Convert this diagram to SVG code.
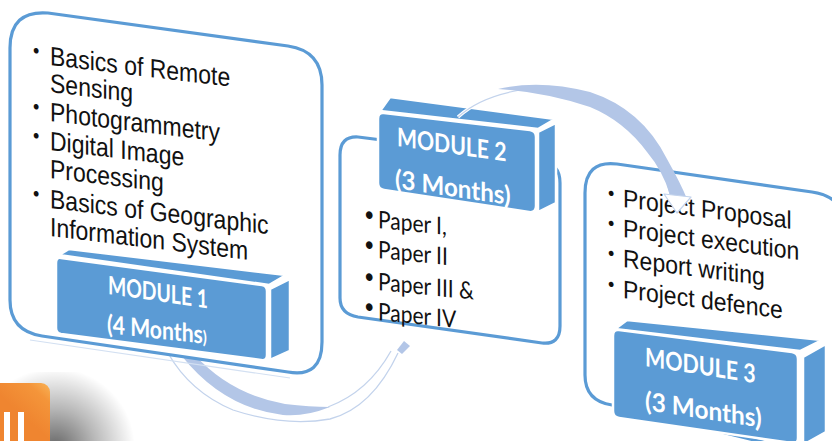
<svg xmlns="http://www.w3.org/2000/svg" width="832" height="441" viewBox="0 0 832 441">
<defs>
<style>
.card{fill:#ffffff;stroke:#5b9bd5;stroke-width:3.2;stroke-linejoin:round}
.face{fill:#5b9bd5;stroke:#ffffff;stroke-width:2.5;stroke-linejoin:round}
.list{font-family:"Liberation Sans",Arial,sans-serif;font-size:23px;fill:#111111}
.list2{font-family:Lato,"Open Sans",sans-serif;font-size:21px;fill:#111111}
.mod{font-family:Lato,"Open Sans",sans-serif;font-size:23px;font-weight:700;fill:#ffffff}
.band{fill:#b3c6e7}
.thin{fill:none;stroke:#c3d3ec;stroke-width:1.3}
.bul{font-size:18px}
</style>
<linearGradient id="og" x1="1" y1="0" x2="0.6" y2="0.5">
<stop offset="0" stop-color="#f9b457"/>
<stop offset="0.35" stop-color="#f4953a"/>
<stop offset="1" stop-color="#ef8530"/>
</linearGradient>
<radialGradient id="sh" cx="55" cy="448" r="80" gradientUnits="userSpaceOnUse">
<stop offset="0" stop-color="#000000" stop-opacity="0.6"/>
<stop offset="0.5" stop-color="#000000" stop-opacity="0.28"/>
<stop offset="1" stop-color="#000000" stop-opacity="0"/>
</radialGradient>
</defs>
<rect width="832" height="441" fill="#ffffff"/>

<g id="connectors-under">
<path class="thin" d="M168,353 Q190,392 233,410 Q285,427 330,419 Q372,408 398,353"/>
<path class="band" d="M181,355 L195,355 Q230,394 285,404 Q310,407 330,407 Q305,417 283,415 Q223,408 181,355 Z"/>
<path class="thin" d="M328,407 Q368,392 391,351"/>
<polygon class="band" points="397,350 404,341 410,346 402,354"/>
</g>

<g id="node-module1">
<path class="card" d="M10,48 Q10,10 48,13 L288,46 Q322,51 322,85 L322,342 Q322,378 288,372 L42,336 Q10,331 10,300 Z"/>
<path d="M30,340 L290,378" fill="none" stroke="#d3e0f2" stroke-width="1.2"/>
<text class="list" transform="matrix(1,0.12,0,1.15,50,65)"><tspan class="bul" x="-17" y="-5">•</tspan><tspan x="0" y="0">Basics of Remote</tspan></text>
<text class="list" transform="matrix(1,0.12,0,1.15,50,92)">Sensing</text>
<text class="list" transform="matrix(1,0.12,0,1.15,50,121)"><tspan class="bul" x="-17" y="-5">•</tspan><tspan x="0" y="0">Photogrammetry</tspan></text>
<text class="list" transform="matrix(1,0.12,0,1.15,50,150)"><tspan class="bul" x="-17" y="-5">•</tspan><tspan x="0" y="0">Digital Image</tspan></text>
<text class="list" transform="matrix(1,0.12,0,1.15,50,178)">Processing</text>
<text class="list" transform="matrix(1,0.12,0,1.15,50,208)"><tspan class="bul" x="-17" y="-5">•</tspan><tspan x="0" y="0">Basics of Geographic</tspan></text>
<text class="list" transform="matrix(1,0.12,0,1.15,50,236)">Information System</text>
<polygon class="face" points="59,255 69,249 286,275 269,285"/>
<polygon class="face" points="270,289 290,279 290,351 270,360"/>
<path class="face" d="M61,258 L262,285 Q267,286 267,291 L267,355 Q267,361 261,360 L61,334 Q56,333 56,328 L56,263 Q56,257 61,258 Z"/>
<text class="mod" transform="matrix(0.84,0.12,0,1.1,108,294)">MODULE 1</text>
<text class="mod" transform="matrix(0.92,0.1,0,1.1,107,333)">(4 Months<tspan font-size="16">)</tspan></text>
</g>

<g id="node-module2">
<path class="card" stroke-width="2.6" d="M340,155 Q340,136 358,137 L540,160 Q560,163 560,183 L560,326 Q560,345 542,343 L358,317 Q340,314 340,298 Z"/>
<text class="list2" transform="matrix(1,0.1,0,1.15,378,228)"><tspan class="bul" x="-14" y="-5">•</tspan><tspan x="0" y="0">Paper I,</tspan></text>
<text class="list2" transform="matrix(1,0.1,0,1.15,378,258)"><tspan class="bul" x="-14" y="-5">•</tspan><tspan x="0" y="0">Paper II</tspan></text>
<text class="list2" transform="matrix(1,0.1,0,1.15,378,290)"><tspan class="bul" x="-14" y="-5">•</tspan><tspan x="0" y="0">Paper III &amp;</tspan></text>
<text class="list2" transform="matrix(1,0.1,0,1.15,378,320)"><tspan class="bul" x="-14" y="-5">•</tspan><tspan x="0" y="0">Paper IV</tspan></text>
<polygon class="face" points="380,111 390,97 555,119 538,129"/>
<polygon class="face" points="538,132 556,123 556,203 538,212"/>
<path class="face" d="M384,113 L530,130 Q536,131 536,137 L536,206 Q536,213 529,212 L384,190 Q378,189 378,183 L378,119 Q378,112 384,113 Z"/>
<text class="mod" transform="matrix(0.92,0.13,0,1.12,397,146)">MODULE 2</text>
<text class="mod" transform="matrix(1.05,0.155,0,1.12,395,188)">(3 Months)</text>
</g>

<g id="node-module3">
<path class="card" stroke-width="3" d="M585,193 Q585,160 617,164 L812,192 Q846,197 846,231 L846,430 Q846,460 815,455 L612,405 Q585,401 585,375 Z"/>
<text class="list" transform="matrix(1,0.13,0,1.1,623,207)"><tspan class="bul" x="-15" y="-5">•</tspan><tspan x="0" y="0">Project Proposal</tspan></text>
<text class="list" transform="matrix(1,0.13,0,1.1,623,237)"><tspan class="bul" x="-15" y="-5">•</tspan><tspan x="0" y="0">Project execution</tspan></text>
<text class="list" transform="matrix(1,0.13,0,1.1,623,267)"><tspan class="bul" x="-15" y="-5">•</tspan><tspan x="0" y="0">Report writing</tspan></text>
<text class="list" transform="matrix(1,0.13,0,1.1,623,298)"><tspan class="bul" x="-15" y="-5">•</tspan><tspan x="0" y="0">Project defence</tspan></text>
<polygon class="face" points="615,329 627,320 822,340 800,351"/>
<polygon class="face" points="803,357 826,344 826,432 803,445"/>
<path class="face" d="M619,330 L792,352 Q798,353 798,359 L798,438 Q798,444 792,443 L619,418 Q613,417 613,411 L613,336 Q613,329 619,330 Z"/>
<text class="mod" transform="matrix(0.93,0.144,0,1.12,645,366)">MODULE 3</text>
<text class="mod" transform="matrix(1.06,0.16,0,1.12,645,410)">(3 Months)</text>
</g>

<g id="connectors">
<path d="M458,117 Q480,97 520,90 Q590,84 630,118 Q660,148 670,194" fill="none" stroke="#ffffff" stroke-width="3.5"/>
<path d="M458,117 Q480,97 520,90 Q590,84 630,118 Q660,148 670,194" fill="none" stroke="#c3d3ec" stroke-width="1.2"/>
<path class="band" d="M498,89 Q540,79 590,92 Q642,109 667,159 Q681,184 687,199 L670,195 Q663,171 647,152 Q624,121 590,107 Q545,92 498,89 Z"/>
<polygon points="664,194 691,197 677,213" fill="#ffffff" stroke="#c3d3ec" stroke-width="1.2" stroke-linejoin="round"/>
</g>

<g id="corner-icon">
<rect x="0" y="372" width="150" height="69" fill="url(#sh)"/>
<rect x="-12" y="383" width="62" height="70" rx="9" fill="url(#og)"/>
<rect x="4" y="412" width="6" height="30" fill="#ffffff"/>
<rect x="18" y="412" width="6" height="30" fill="#ffffff"/>
</g>
</svg>
